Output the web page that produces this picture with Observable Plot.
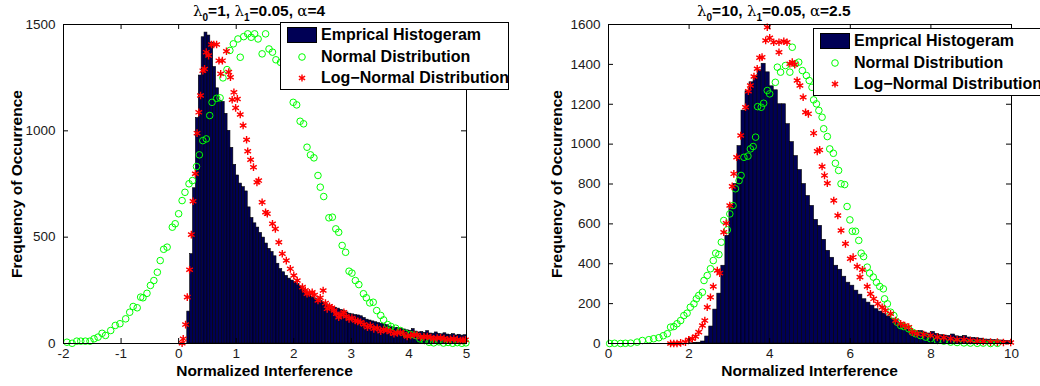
<!DOCTYPE html>
<html><head><meta charset="utf-8">
<script src="https://cdn.jsdelivr.net/npm/d3@7"></script>
<script src="https://cdn.jsdelivr.net/npm/@observablehq/plot@0.6"></script>
<style>
html,body{margin:0;padding:0;background:#fff;}
#wrap{position:relative;width:1040px;height:386px;overflow:hidden;font-family:"Liberation Sans",Arial,sans-serif;color:#000;}
.panel{position:absolute;top:0;width:520px;height:386px;}
.panel svg{display:block;max-width:none;}
.panel svg text{font-size:13.5px !important;fill:#1a1a1a;}
.xlabel,.ylabel{position:absolute;font-weight:bold;font-size:15.5px;white-space:nowrap;line-height:16px;}
.xlabel{transform:translate(-50%,-50%);}
.ylabel{transform:translate(-50%,-50%) rotate(-90deg);}
.title{position:absolute;font-weight:bold;font-size:15.5px;white-space:nowrap;line-height:16px;}
.title sub{font-size:10px;vertical-align:baseline;position:relative;top:5px;}
.title .g{font-family:"DejaVu Serif",serif;font-weight:normal;font-size:15px;}
.legend{position:absolute;background:#fff;border:1px solid #000;box-sizing:border-box;}
.legend .row{position:absolute;left:0;height:20px;display:flex;align-items:center;font-weight:bold;font-size:16px;white-space:nowrap;}
.legend .row svg{width:30px;height:20px;margin-left:6px;margin-right:4px;display:block;}
</style>
</head><body>
<div id="wrap"></div>
<script>
// ---------- Left panel data (lambda0=1, lambda1=0.05, alpha=4) ----------
const leftXTicks = [-2, -1, 0, 1, 2, 3, 4, 5];
const leftYTicks = [0, 500, 1000, 1500];
const leftBinStart = 0.15;
const leftBinWidth = 0.05;
const leftHistCounts = [
  150, 420, 730, 1060, 1260, 1440, 1462, 1448, 1415, 1300,
  1200, 1142, 1136, 1080, 1000, 920, 840, 790, 752, 735,
  715, 640, 590, 565, 545, 520, 498, 470, 445, 430,
  410, 375, 350, 335, 318, 305, 296, 288, 280, 268,
  255, 245, 232, 218, 212, 205, 200, 192, 184, 178,
  172, 168, 164, 158, 152, 146, 140, 137, 134, 132,
  128, 120, 112, 108, 104, 100, 96, 93, 90, 86,
  80, 76, 73, 72, 70, 66, 62, 60, 68, 56,
  52, 54, 50, 58, 47, 46, 52, 45, 43, 48,
  42, 40, 44, 38, 41, 37, 39
];
const leftNormX = [-1.94,-1.85,-1.77,-1.70,-1.62,-1.54,-1.47,-1.40,-1.33,-1.27,-1.18,-1.10,-1.02,-0.92,-0.85,-0.79,-0.72,-0.66,-0.62,-0.55,-0.49,-0.43,-0.37,-0.32,-0.26,-0.20,-0.11,-0.06,0.00,0.06,0.11,0.18,0.24,0.31,0.36,0.42,0.48,0.54,0.58,0.66,0.72,0.77,0.84,0.89,0.95,1.03,1.07,1.13,1.20,1.26,1.32,1.38,1.45,1.51,1.57,1.63,1.69,1.77,1.85,1.99,2.05,2.11,2.17,2.23,2.29,2.35,2.42,2.46,2.52,2.61,2.67,2.73,2.78,2.84,2.90,2.96,3.01,3.07,3.13,3.21,3.26,3.32,3.38,3.44,3.51,3.56,3.63,3.69,3.77,3.85,3.94,4.03,4.11,4.19,4.27,4.35,4.43,4.52,4.60,4.68,4.76,4.84,4.92,4.99];
const leftNormY = [6,1,11,11,11,11,22,30,48,38,61,85,93,116,147,174,168,218,215,236,273,296,335,390,443,453,547,563,610,672,711,751,766,832,887,954,962,1072,1134,1153,1155,1249,1288,1378,1409,1432,1346,1443,1456,1440,1456,1432,1362,1456,1385,1370,1334,1322,1240,1134,1122,1045,1033,923,887,873,790,735,691,591,594,539,523,461,429,340,331,296,277,234,215,191,194,155,132,111,89,80,72,61,48,42,38,22,14,6,3,8,2,5,1,4,1,3];
const leftLogX = [0.06,0.08,0.12,0.15,0.19,0.22,0.25,0.29,0.32,0.35,0.38,0.42,0.45,0.48,0.52,0.57,0.61,0.66,0.70,0.73,0.76,0.83,0.87,0.90,0.93,0.96,0.99,1.02,1.07,1.12,1.18,1.20,1.25,1.30,1.36,1.39,1.45,1.51,1.54,1.63,1.68,1.74,1.80,1.87,1.94,2.00,2.06,2.15,2.20,2.23,2.27,2.32,2.36,2.42,2.46,2.51,2.55,2.58,2.62,2.66,2.70,2.74,2.78,2.82,2.87,2.91,2.96,3.01,3.07,3.11,3.16,3.22,3.28,3.33,3.39,3.45,3.51,3.56,3.62,3.68,3.74,3.80,3.85,3.91,3.97,4.03,4.09,4.14,4.20,4.26,4.32,4.38,4.43,4.49,4.55,4.61,4.67,4.72,4.78,4.84,4.90,4.94,4.98];
const leftLogY = [1,22,89,218,347,512,669,798,989,1087,1166,1283,1291,1370,1354,1406,1406,1406,1330,1268,1330,1374,1276,1252,1146,1181,1108,1150,1077,1025,958,904,864,829,758,766,664,617,610,563,539,476,422,390,351,320,296,265,250,234,238,241,228,202,215,249,190,163,175,168,155,140,124,135,147,128,116,120,108,104,100,90,77,84,69,73,58,66,61,55,46,50,53,45,33,38,42,40,30,31,33,28,22,26,27,23,17,20,22,18,14,15,17];

// ---------- Right panel data (lambda0=10, lambda1=0.05, alpha=2.5) ----------
const rightXTicks = [0, 2, 4, 6, 8, 10];
const rightYTicks = [0, 200, 400, 600, 800, 1000, 1200, 1400, 1600];
const rightBinStart = 2.0;
const rightBinWidth = 0.1;
const rightHistCounts = [
  1, 2, 4, 10, 35, 85, 170, 250, 390, 540,
  690, 800, 990, 1168, 1265, 1310, 1340, 1370, 1403, 1360,
  1290, 1270, 1200, 1200, 1100, 1010, 940, 870, 800, 740,
  690, 620, 590, 520, 465, 430, 390, 370, 335, 305,
  290, 265, 245, 222, 205, 190, 172, 160, 150, 135,
  125, 112, 95, 85, 70, 62, 58, 62, 55, 50,
  58, 48, 42, 40, 38, 45, 36, 34, 38, 30,
  28, 26, 24, 20, 19, 17, 16, 15, 13, 12
];
const rightNormX = [0.03,0.15,0.30,0.42,0.55,0.71,0.84,1.00,1.12,1.25,1.36,1.46,1.54,1.62,1.70,1.79,1.87,1.95,2.03,2.12,2.18,2.24,2.33,2.37,2.45,2.53,2.60,2.66,2.74,2.80,2.86,2.95,3.01,3.09,3.15,3.24,3.29,3.36,3.46,3.52,3.59,3.65,3.70,3.79,3.85,3.94,4.00,4.14,4.19,4.27,4.39,4.50,4.56,4.64,4.72,4.81,4.91,4.98,5.05,5.09,5.16,5.22,5.30,5.34,5.43,5.49,5.58,5.63,5.71,5.77,5.86,5.92,5.99,6.05,6.13,6.21,6.27,6.33,6.42,6.48,6.57,6.65,6.73,6.82,6.85,6.92,7.00,7.08,7.16,7.25,7.33,7.45,7.54,7.62,7.74,7.87,7.99,8.16,8.32,8.49,8.65,8.82,8.98,9.15,9.30,9.48,9.65];
const rightNormY = [0,1,0,1,2,7,15,19,24,29,39,49,82,85,99,115,140,152,182,199,224,241,257,316,341,375,416,453,446,508,617,570,650,692,776,817,843,934,940,976,988,1035,1188,1185,1205,1269,1252,1310,1386,1361,1394,1361,1486,1403,1411,1369,1344,1319,1285,1222,1202,1169,1135,1077,1038,976,954,904,868,801,797,687,620,563,563,517,453,436,383,353,333,307,286,274,224,199,157,140,107,90,85,74,57,49,40,32,24,15,12,7,5,3,2,1,2,0,1];
const rightLogX = [1.54,1.62,1.70,1.79,1.91,1.99,2.08,2.16,2.24,2.33,2.39,2.45,2.53,2.60,2.70,2.76,2.86,2.92,3.01,3.07,3.11,3.18,3.28,3.40,3.47,3.52,3.61,3.69,3.75,3.81,3.90,3.94,4.00,4.10,4.23,4.23,4.35,4.43,4.50,4.56,4.62,4.68,4.75,4.83,4.89,4.96,5.09,5.18,5.24,5.30,5.36,5.43,5.59,5.69,5.77,5.88,6.00,6.07,6.17,6.24,6.30,6.42,6.50,6.58,6.68,6.79,6.87,7.00,7.12,7.25,7.35,7.45,7.54,7.66,7.82,7.99,8.16,8.32,8.49,8.65,8.82,8.98,9.15,9.30,9.48,9.65,9.80,9.98];
const rightLogY = [0,0,0,3,7,19,24,35,57,90,115,182,232,286,366,353,558,603,692,788,851,934,1043,1185,1265,1294,1339,1378,1433,1436,1520,1586,1533,1511,1511,1461,1516,1511,1403,1411,1399,1319,1294,1235,1160,1152,1055,964,971,888,843,804,717,642,567,500,425,433,386,333,370,286,249,224,199,182,166,149,115,99,90,82,57,49,45,40,32,29,24,19,19,15,12,10,7,7,5,5];

const legendLabels = ["Emprical Histogeram", "Normal Distribution", "Log\u2212Normal Distribution"];

// ---------- drawing ----------
const barFill = "#000055";
function panel(cfg) {
  const {xDomain, yDomain, xTicks, yTicks, binStart, binWidth, counts, normX, normY, logX, logY, ml, mr, mt, mb} = cfg;
  const width = 520, height = 386;
  const bars = counts.map((c, i) => ({x1: binStart + i * binWidth, x2: binStart + (i + 1) * binWidth, y1: 0, y2: c}));
  const norm = normX.map((x, i) => ({x, y: normY[i]}));
  const logn = logX.map((x, i) => ({x, y: logY[i]}));
  const pxX = (width - ml - mr) / (xDomain[1] - xDomain[0]);
  const pxY = (height - mt - mb) / (yDomain[1] - yDomain[0]);
  const tl = 5, kx = tl / pxX, ky = tl / pxY;
  const [x0, x1] = xDomain, [y0, y1] = yDomain;
  return Plot.plot({
    width, height, marginLeft: ml, marginRight: mr, marginTop: mt, marginBottom: mb,
    style: {fontFamily: "Liberation Sans, Arial, sans-serif", fontSize: "13.5px", color: "#111", background: "transparent", overflow: "visible"},
    x: {domain: xDomain, ticks: xTicks, tickSize: 0, tickPadding: 5, tickFormat: d => String(d), label: null},
    y: {domain: yDomain, ticks: yTicks, tickSize: 0, tickPadding: 8, tickFormat: d => String(d), label: null},
    marks: [
      Plot.rect(bars, {x1: "x1", x2: "x2", y1: "y1", y2: "y2", fill: barFill, stroke: "#000", strokeWidth: 0.6, inset: 0}),
      Plot.dot(norm, {x: "x", y: "y", r: 3.3, stroke: "#00ff00", strokeWidth: 1, fill: "none"}),
      Plot.dot(logn, {x: "x", y: "y", r: 3.6, symbol: "asterisk", stroke: "#ff0000", strokeWidth: 1.4}),
      Plot.ruleX(xTicks, {x: d => d, y1: () => y0, y2: () => y0 + ky, stroke: "#000"}),
      Plot.ruleX(xTicks, {x: d => d, y1: () => y1, y2: () => y1 - ky, stroke: "#000"}),
      Plot.ruleY(yTicks, {y: d => d, x1: () => x0, x2: () => x0 + kx, stroke: "#000"}),
      Plot.ruleY(yTicks, {y: d => d, x1: () => x1, x2: () => x1 - kx, stroke: "#000"}),
      Plot.frame({stroke: "#000"})
    ]
  });
}

function addDiv(cls, html, css) {
  const d = document.createElement("div");
  d.className = cls; d.innerHTML = html;
  Object.assign(d.style, css);
  document.getElementById("wrap").appendChild(d);
  return d;
}

function legend(left, top, width) {
  const box = addDiv("legend", "", {left: left + "px", top: top + "px", width: width + "px", height: "68px"});
  const syms = [
    '<svg viewBox="0 0 30 20"><rect x="0.5" y="2.5" width="29" height="15" fill="' + barFill + '" stroke="#000"/></svg>',
    '<svg viewBox="0 0 30 20"><circle cx="15" cy="10" r="3.3" fill="none" stroke="#00ff00" stroke-width="1"/></svg>',
    '<svg viewBox="0 0 30 20"><path d="M15,6.4V13.6M11.9,8.2L18.1,11.8M11.9,11.8L18.1,8.2" stroke="#ff0000" stroke-width="1.4"/></svg>'
  ];
  const rowTops = [2, 24, 45];
  legendLabels.forEach((lab, i) => {
    const r = document.createElement("div");
    r.className = "row";
    r.style.top = rowTops[i] + "px";
    r.innerHTML = syms[i] + "<span>" + lab + "</span>";
    box.appendChild(r);
  });
}

const leftDiv = addDiv("panel", "", {left: "0px"});
leftDiv.appendChild(panel({
  xDomain: [-2, 5], yDomain: [0, 1500], xTicks: leftXTicks, yTicks: leftYTicks,
  binStart: leftBinStart, binWidth: leftBinWidth, counts: leftHistCounts,
  normX: leftNormX, normY: leftNormY, logX: leftLogX, logY: leftLogY,
  ml: 63, mr: 54, mt: 24, mb: 43
}));
const rightDiv = addDiv("panel", "", {left: "520px"});
rightDiv.appendChild(panel({
  xDomain: [0, 10], yDomain: [0, 1600], xTicks: rightXTicks, yTicks: rightYTicks,
  binStart: rightBinStart, binWidth: rightBinWidth, counts: rightHistCounts,
  normX: rightNormX, normY: rightNormY, logX: rightLogX, logY: rightLogY,
  ml: 88, mr: 29, mt: 24, mb: 43
}));

addDiv("title", '<span class="g">λ</span><sub>0</sub>=1, <span class="g">λ</span><sub>1</sub>=0.05, <span class="g">α</span>=4', {left: "193px", top: "3px"});
addDiv("title", '<span class="g">λ</span><sub>0</sub>=10, <span class="g">λ</span><sub>1</sub>=0.05, <span class="g">α</span>=2.5', {left: "697px", top: "3px"});
addDiv("xlabel", "Normalized Interference", {left: "264.5px", top: "371px"});
addDiv("xlabel", "Normalized Interference", {left: "809.5px", top: "371px"});
addDiv("ylabel", "Frequency of Occurrence", {left: "17px", top: "183.5px"});
addDiv("ylabel", "Frequency of Occurrence", {left: "557px", top: "183.5px"});
legend(280, 22, 229);
legend(813, 28, 240);
</script>
</body></html>
